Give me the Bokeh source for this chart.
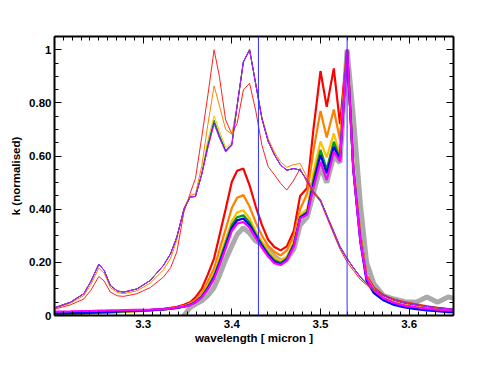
import numpy as np
from bokeh.plotting import figure
from bokeh.models import LinearAxis, FixedTicker, Span
from bokeh.embed import file_html
from bokeh.resources import INLINE

NaN = float("nan")

wavelength = [3.200, 3.218, 3.233, 3.241, 3.250, 3.256, 3.263, 3.271, 3.278, 3.293,
              3.308, 3.323, 3.331, 3.338, 3.346, 3.353, 3.359, 3.366, 3.373, 3.380,
              3.386, 3.393, 3.400, 3.406, 3.413, 3.420, 3.427, 3.434, 3.441, 3.448,
              3.455, 3.462, 3.470, 3.477, 3.485, 3.492, 3.500, 3.507, 3.515, 3.522,
              3.530, 3.537, 3.545, 3.552, 3.560, 3.571, 3.583, 3.595, 3.608, 3.620,
              3.632, 3.644, 3.656]

# thin spectra
thin_red = [0.024, 0.040, 0.062, 0.095, 0.147, 0.130, 0.088, 0.074, 0.072, 0.082,
            0.105, 0.145, 0.180, 0.240, 0.390, 0.460, 0.516, 0.670, 0.830, 1.000,
            0.899, 0.736, 0.683, 0.723, 0.849, 0.874, 0.770, 0.640, 0.560, 0.530,
            0.497, 0.472, 0.510, 0.553, 0.500, 0.460, 0.428, 0.370, 0.305, 0.250,
            0.201, 0.170, 0.135, 0.115, 0.094, 0.076, 0.062, 0.052, 0.044, 0.037,
            0.031, 0.026, 0.023]
thin_orange = [0.027, 0.046, 0.075, 0.116, 0.180, 0.160, 0.105, 0.086, 0.082, 0.093,
               0.122, 0.172, 0.215, 0.285, 0.405, 0.452, 0.458, 0.560, 0.720, 0.864,
               0.790, 0.700, 0.682, 0.790, 0.950, 1.000, 0.875, 0.745, 0.665, 0.615,
               0.578, 0.558, 0.568, 0.572, 0.520, 0.472, 0.436, 0.380, 0.318, 0.262,
               0.216, 0.180, 0.144, 0.118, 0.098, 0.074, 0.057, 0.046, 0.039, 0.033,
               0.028, 0.024, 0.021]
thin_yellow = [0.029, 0.050, 0.082, 0.128, 0.193, 0.170, 0.113, 0.092, 0.088, 0.100,
               0.132, 0.189, 0.233, 0.296, 0.400, 0.446, 0.448, 0.535, 0.660, 0.751,
               0.695, 0.632, 0.650, 0.790, 0.955, 1.000, 0.870, 0.740, 0.655, 0.605,
               0.566, 0.547, 0.553, 0.547, 0.509, 0.465, 0.434, 0.377, 0.314, 0.258,
               0.214, 0.180, 0.145, 0.120, 0.100, 0.075, 0.058, 0.047, 0.040, 0.034,
               0.029, 0.025, 0.022]
thin_green = [0.029, 0.050, 0.082, 0.128, 0.193, 0.170, 0.113, 0.092, 0.088, 0.100,
              0.132, 0.189, 0.233, 0.296, 0.400, 0.446, 0.448, 0.532, 0.645, 0.735,
              0.680, 0.622, 0.645, 0.790, 0.955, 1.000, 0.870, 0.740, 0.655, 0.605,
              0.566, 0.547, 0.553, 0.547, 0.509, 0.465, 0.434, 0.377, 0.314, 0.258,
              0.214, 0.180, 0.145, 0.120, 0.100, 0.075, 0.058, 0.047, 0.040, 0.034,
              0.029, 0.025, 0.022]
thin_blue = [0.029, 0.050, 0.082, 0.128, 0.193, 0.170, 0.113, 0.092, 0.088, 0.100,
             0.132, 0.189, 0.233, 0.296, 0.400, 0.446, 0.448, 0.530, 0.635, 0.725,
             0.672, 0.618, 0.642, 0.790, 0.955, 1.000, 0.870, 0.740, 0.655, 0.605,
             0.566, 0.547, 0.553, 0.547, 0.509, 0.465, 0.434, 0.377, 0.314, 0.258,
             0.214, 0.180, 0.145, 0.120, 0.100, 0.075, 0.058, 0.047, 0.040, 0.034,
             0.029, 0.025, 0.022]
thin_magenta = [0.029, 0.050, 0.082, 0.128, 0.193, 0.170, 0.113, 0.092, 0.088, 0.100,
                0.132, 0.189, 0.233, 0.296, 0.400, 0.446, 0.448, 0.530, 0.630, 0.720,
                0.668, 0.615, 0.640, 0.790, 0.955, 1.000, 0.870, 0.740, 0.655, 0.605,
                0.566, 0.547, 0.553, 0.547, 0.509, 0.465, 0.434, 0.377, 0.314, 0.258,
                0.214, 0.180, 0.145, 0.120, 0.100, 0.075, 0.058, 0.047, 0.040, 0.034,
                0.029, 0.025, 0.022]

# thick spectra
thick_red = [0.005, 0.007, 0.009, 0.010, 0.011, 0.012, 0.013, 0.014, 0.015, 0.017,
             0.020, 0.025, 0.029, 0.033, 0.040, 0.050, 0.068, 0.100, 0.155, 0.215,
             0.300, 0.400, 0.503, 0.545, 0.553, 0.490, 0.410, 0.340, 0.285, 0.258,
             0.245, 0.260, 0.320, 0.450, 0.480, 0.700, 0.920, 0.785, 0.930, 0.720,
             1.000, 0.560, 0.300, 0.150, 0.105, 0.076, 0.058, 0.047, 0.039, 0.033,
             0.028, 0.024, 0.021]
thick_orange = [0.004, 0.006, 0.008, 0.009, 0.010, 0.011, 0.012, 0.013, 0.014, 0.016,
                0.019, 0.023, 0.027, 0.030, 0.036, 0.045, 0.058, 0.085, 0.128, 0.178,
                0.245, 0.325, 0.405, 0.443, 0.453, 0.410, 0.350, 0.300, 0.262, 0.240,
                0.226, 0.245, 0.300, 0.400, 0.459, 0.620, 0.770, 0.670, 0.775, 0.660,
                1.000, 0.560, 0.295, 0.145, 0.100, 0.072, 0.055, 0.044, 0.036, 0.031,
                0.026, 0.022, 0.020]
thick_yellow = [0.004, 0.006, 0.008, 0.009, 0.010, 0.011, 0.012, 0.013, 0.014, 0.016,
                0.019, 0.022, 0.026, 0.029, 0.034, 0.042, 0.053, 0.075, 0.112, 0.157,
                0.214, 0.285, 0.355, 0.388, 0.396, 0.365, 0.318, 0.278, 0.243, 0.218,
                0.207, 0.222, 0.280, 0.380, 0.400, 0.540, 0.655, 0.595, 0.686, 0.600,
                1.000, 0.555, 0.290, 0.142, 0.097, 0.069, 0.052, 0.041, 0.034, 0.029,
                0.024, 0.021, 0.018]
thick_green = [0.005, 0.007, 0.009, 0.010, 0.011, 0.012, 0.013, 0.014, 0.015, 0.017,
               0.020, 0.023, 0.026, 0.029, 0.034, 0.041, 0.052, 0.072, 0.107, 0.150,
               0.204, 0.272, 0.340, 0.370, 0.377, 0.350, 0.306, 0.268, 0.233, 0.208,
               0.198, 0.215, 0.270, 0.370, 0.390, 0.510, 0.623, 0.550, 0.654, 0.590,
               1.000, 0.552, 0.285, 0.138, 0.093, 0.064, 0.047, 0.036, 0.029, 0.024,
               0.020, 0.017, 0.015]
thick_blue = [0.008, 0.009, 0.010, 0.011, 0.012, 0.013, 0.014, 0.015, 0.016, 0.018,
              0.020, 0.023, 0.026, 0.029, 0.033, 0.040, 0.050, 0.069, 0.102, 0.144,
              0.196, 0.262, 0.330, 0.358, 0.365, 0.340, 0.300, 0.262, 0.228, 0.202,
              0.193, 0.210, 0.265, 0.368, 0.386, 0.495, 0.604, 0.535, 0.635, 0.585,
              1.000, 0.550, 0.275, 0.130, 0.085, 0.057, 0.040, 0.030, 0.024, 0.019,
              0.016, 0.013, 0.012]
thick_magenta = [0.015, 0.016, 0.017, 0.017, 0.018, 0.018, 0.019, 0.019, 0.020, 0.021,
                 0.022, 0.024, 0.027, 0.030, 0.033, 0.039, 0.049, 0.067, 0.098, 0.138,
                 0.188, 0.252, 0.318, 0.346, 0.352, 0.330, 0.292, 0.255, 0.222, 0.197,
                 0.190, 0.206, 0.260, 0.365, 0.380, 0.480, 0.579, 0.510, 0.616, 0.580,
                 1.000, 0.550, 0.280, 0.140, 0.095, 0.065, 0.048, 0.037, 0.031, 0.026,
                 0.022, 0.019, 0.017]
reference_gray = [NaN, NaN, NaN, NaN, NaN, NaN, NaN, NaN, NaN, NaN,
                  NaN, NaN, -0.060, -0.030, 0.000, 0.030, 0.042, 0.055, 0.075, 0.105,
                  0.150, 0.210, 0.262, 0.305, 0.330, 0.310, 0.280, 0.268, 0.245, 0.222,
                  0.205, 0.212, 0.250, 0.340, 0.370, 0.460, 0.560, 0.500, 0.600, 0.575,
                  1.000, 0.750, 0.420, 0.200, 0.120, 0.075, 0.062, 0.052, 0.050, 0.070,
                  0.050, 0.070, 0.060]

marker_lines = [3.43, 3.53]
x_ticks = [3.3, 3.4, 3.5, 3.6]
y_ticks = [0.0, 0.2, 0.4, 0.6, 0.8, 1.0]
y_tick_labels = ["0", "0.20", "0.40", "0.60", "0.80", "1"]

FONT = "Liberation Sans"
FS = "11.5px"

p = figure(width=483, height=371, x_range=(3.2, 3.65), y_range=(0.0, 1.05),
           output_backend="svg", toolbar_location=None,
           min_border_left=54, min_border_right=30, min_border_top=36, min_border_bottom=56)
p.xgrid.visible = False
p.ygrid.visible = False
p.outline_line_color = None
p.background_fill_color = "white"
p.border_fill_color = "white"

x_minor = [round(v, 3) for v in np.arange(3.20, 3.6501, 0.01)]
y_minor = [round(v, 3) for v in np.arange(0.0, 1.0501, 0.05)]

def style_axis(ax, labels=True):
    ax.axis_line_width = 2
    ax.axis_line_color = "black"
    ax.major_tick_in = 7
    ax.major_tick_out = 0
    ax.minor_tick_in = 4
    ax.minor_tick_out = 0
    ax.major_tick_line_width = 1
    ax.minor_tick_line_width = 1
    ax.major_tick_line_color = "black"
    ax.minor_tick_line_color = "black"
    ax.major_label_text_font = FONT
    ax.major_label_text_font_style = "bold"
    ax.major_label_text_color = "black"
    ax.major_label_text_font_size = FS
    ax.axis_label_text_font = FONT
    ax.axis_label_text_font_style = "bold"
    ax.axis_label_text_font_size = FS
    ax.axis_label_text_color = "black"

xt = FixedTicker(ticks=x_ticks, minor_ticks=x_minor)
yt = FixedTicker(ticks=y_ticks, minor_ticks=y_minor)

p.xaxis.ticker = xt
p.yaxis.ticker = yt
p.yaxis.major_label_overrides = {t: l for t, l in zip(y_ticks, y_tick_labels)}
for ax in p.xaxis:
    style_axis(ax)
    ax.major_label_standoff = 4
    ax.axis_label_standoff = 1
for ax in p.yaxis:
    style_axis(ax)
    ax.major_label_standoff = 3
    ax.axis_label_standoff = 4
p.xaxis.axis_label = "wavelength [ micron ]"
p.yaxis.axis_label = "k (normalised)"

# box axes (top / right) with ticks but no labels
top_ax = LinearAxis(ticker=FixedTicker(ticks=x_ticks, minor_ticks=x_minor))
style_axis(top_ax)
top_ax.major_label_overrides = {t: "" for t in x_ticks}
top_ax.major_label_standoff = 0
right_ax = LinearAxis(ticker=FixedTicker(ticks=y_ticks, minor_ticks=y_minor))
style_axis(right_ax)
right_ax.major_label_overrides = {t: "" for t in y_ticks}
right_ax.major_label_standoff = 0
p.add_layout(top_ax, "above")
p.add_layout(right_ax, "right")

# reference (thick gray) at the bottom
p.line(wavelength, reference_gray, line_color="#aaaaaa", line_width=5)

thick = [(thick_red, "#ff0000"), (thick_orange, "#ff8000"), (thick_yellow, "#ffc000"),
         (thick_green, "#00a000"), (thick_blue, "#0000ff"), (thick_magenta, "#ff00ff")]
thin = [(thin_red, "#ff2020"), (thin_orange, "#ff8000"), (thin_yellow, "#ffc000"),
        (thin_green, "#00a000"), (thin_blue, "#0000ff"), (thin_magenta, "#d020ff")]

for ys, c in thick:
    p.line(wavelength, ys, line_color=c, line_width=2.2)
for ys, c in thin:
    p.line(wavelength, ys, line_color=c, line_width=1)

for loc in marker_lines:
    p.add_layout(Span(location=loc, dimension="height", line_color="#3030ff", line_width=1))

open("out.html", "w").write(file_html(p, INLINE))
